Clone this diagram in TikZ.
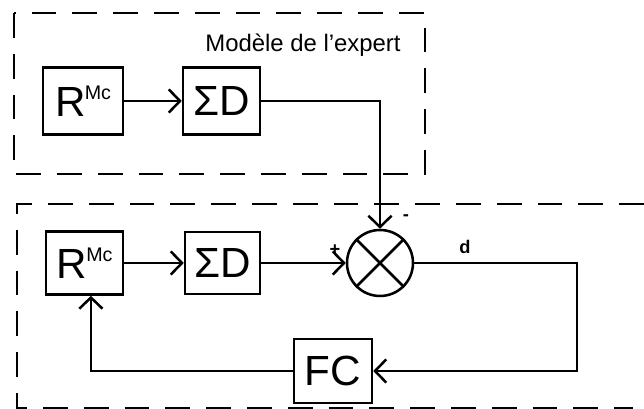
\documentclass[tikz,border=0pt]{standalone}
\usepackage{fontspec}
\setmainfont{Liberation Sans}
\usetikzlibrary{arrows.meta,positioning,calc}
\tikzset{
  blk/.style={draw=black,line width=1.8pt,minimum width=1.95cm,minimum height=1.6cm,
              inner sep=0pt,font=\fontsize{30}{32}\selectfont},
  zone/.style={draw=black,line width=1.7pt,dash pattern=on 0.62cm off 0.4cm},
  sig/.style={-{Straight Barb[length=2.8mm,width=5.8mm]},line width=1.8pt},
  sgn/.style={font=\bfseries\fontsize{13}{13}\selectfont,inner sep=0pt}
}
\newcommand{\RMc}{R\kern-0.5pt\raisebox{0.42cm}{\fontsize{14}{15}\selectfont Mc}}
\begin{document}
\begin{tikzpicture}[x=1cm,y=1cm]
    \path[use as bounding box] (0,0) rectangle (16.1,10.225);

    % zones
    \draw[zone] (0.35,9.9) rectangle (10.625,5.875);
    \draw[zone] (16.1,5.125) -- (0.425,5.125) -- (0.425,0.03) -- (15.825,0.03);
    \node[font=\fontsize{17}{19}\selectfont] (title) at (7.575,9.1) {Modèle de l'expert};

    % expert model
    \node[blk,minimum width=2cm,minimum height=1.675cm] (rexp) at (2.075,7.7) {\RMc};
    \node[blk,minimum width=1.925cm,minimum height=1.675cm] (sdexp) at (5.5375,7.7) {ΣD};
    \draw[sig] (rexp) -- (sdexp);

    % system loop
    \node[blk,minimum width=1.925cm,minimum height=1.575cm] (rsys) at (2.1125,3.65) {\RMc};
    \node[blk,minimum width=1.875cm,minimum height=1.55cm] (sdsys) at (5.5625,3.65) {ΣD};
    \node[circle,draw,line width=1.8pt,minimum size=1.65cm,inner sep=0pt] (cmp) at (9.5,3.65) {};
    \draw[line width=1.8pt] (cmp.north west) -- (cmp.south east);
    \draw[line width=1.8pt] (cmp.north east) -- (cmp.south west);
    \node[blk,minimum width=1.95cm,minimum height=1.6cm] (fc) at (8.325,0.95) {FC};
    \coordinate (rgt) at (14.425,0.95);

    \draw[sig] (rsys) -- (sdsys);
    \draw[sig] (sdsys) -- (cmp);
    \draw[sig] (sdexp.east) -| (cmp.north);
    \draw[sig] (cmp.east) -| (rgt) -- (fc.east);
    \draw[sig] (fc.west) -| ([xshift=1.6mm]rsys.south);

    \node[sgn] (plus) at (8.375,3.975) {+};
    \node[sgn] (minus) at (10.15,4.775) {-};
    \node[sgn] (dlab) at (11.625,4.05) {d};
\end{tikzpicture}
\end{document}
